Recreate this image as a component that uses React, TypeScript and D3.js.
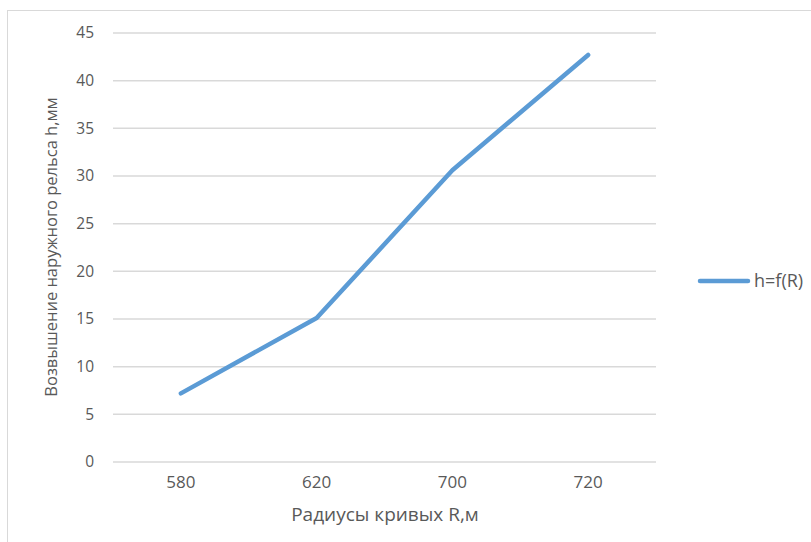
import React from "react";
import * as d3 from "d3";

// Curve radii (categories) and outer-rail superelevation values, mm
const radii: string[] = ["580", "620", "700", "720"];
const elevation: number[] = [7.2, 15.1, 30.6, 42.7];
const yTicks: number[] = [0, 5, 10, 15, 20, 25, 30, 35, 40, 45];
const seriesName = "h=f(R)";
const xTitle = "Радиусы кривых R,м";
const yTitle = "Возвышение наружного рельса h,мм";

const W = 811;
const H = 542;
const plot = { left: 113, right: 656, top: 33, bottom: 462 };
const blue = "#5B9BD5";
const textGray = "#595959";
const font = "'Open Sans', 'Liberation Sans', sans-serif";

export default function App() {
  const x = d3
    .scaleBand<string>()
    .domain(radii)
    .range([plot.left, plot.right]);
  const y = d3.scaleLinear().domain([0, 45]).range([plot.bottom, plot.top]);

  const pts = radii.map((r, i) => [x(r)! + x.bandwidth() / 2, y(elevation[i])] as [number, number]);
  const path = d3.line()(pts) ?? "";

  return (
    <svg
      width={W}
      height={H}
      style={{ position: "absolute", left: 0, top: 0, background: "#fff" }}
      fontFamily={font}
    >
      <rect x={7.5} y={10.5} width={W + 10} height={H + 10} fill="#fff" stroke="#d9d9d9" strokeWidth={1} />

      {yTicks.map((t) => (
        <g key={t}>
          <line x1={plot.left} x2={plot.right} y1={y(t)} y2={y(t)} stroke="#d9d9d9" strokeWidth={1.5} />
          <text x={94} y={y(t)} dy="0.35em" textAnchor="end" fontSize={15.5} fill={textGray}>
            {t}
          </text>
        </g>
      ))}

      {radii.map((r) => (
        <text
          key={r}
          x={x(r)! + x.bandwidth() / 2}
          y={488}
          textAnchor="middle"
          fontSize={17}
          fill={textGray}
        >
          {r}
        </text>
      ))}

      <path d={path} fill="none" stroke={blue} strokeWidth={4.5} strokeLinecap="round" strokeLinejoin="round" />

      <text x={385} y={521} textAnchor="middle" fontSize={19} fill={textGray}>
        {xTitle}
      </text>
      <text
        transform={`translate(57, 247) rotate(-90)`}
        textAnchor="middle"
        fontSize={16.5}
        fill={textGray}
      >
        {yTitle}
      </text>

      <line x1={700} x2={748} y1={281} y2={281} stroke={blue} strokeWidth={4.5} strokeLinecap="round" />
      <text x={754} y={281} dy="0.35em" fontSize={18} fill={textGray}>
        {seriesName}
      </text>
    </svg>
  );
}
